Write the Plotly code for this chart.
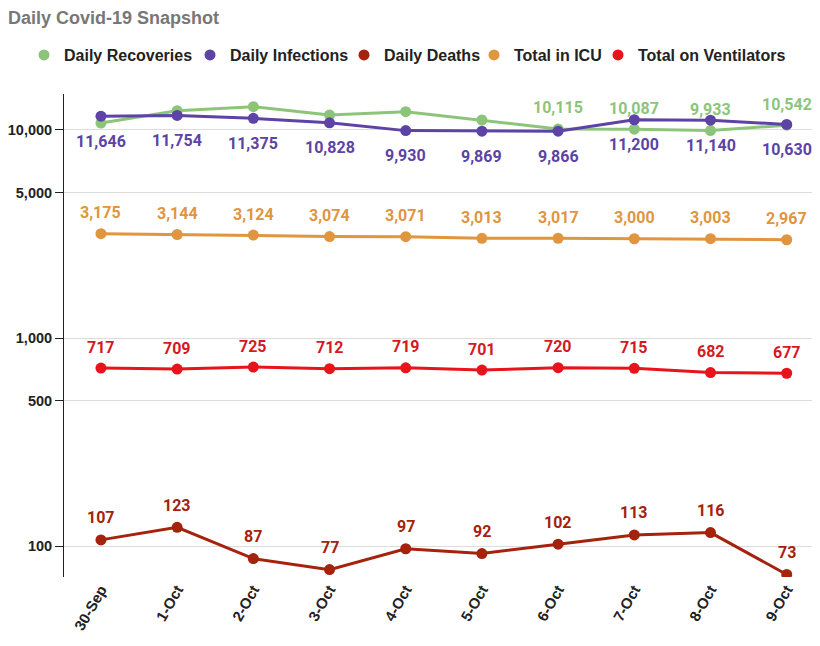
import math
import plotly.graph_objects as go

dates = ["30-Sep", "1-Oct", "2-Oct", "3-Oct", "4-Oct", "5-Oct", "6-Oct", "7-Oct", "8-Oct", "9-Oct"]
recoveries = [10800, 12380, 12940, 11810, 12240, 11170, 10115, 10087, 9933, 10542]
recoveries_labeled = [False, False, False, False, False, False, True, True, True, True]
infections = [11646, 11754, 11375, 10828, 9930, 9869, 9866, 11200, 11140, 10630]
deaths = [107, 123, 87, 77, 97, 92, 102, 113, 116, 73]
icu = [3175, 3144, 3124, 3074, 3071, 3013, 3017, 3000, 3003, 2967]
ventilators = [717, 709, 725, 712, 719, 701, 720, 715, 682, 677]

y_tickvals = [100, 500, 1000, 5000, 10000]
y_ticktext = ["100", "500", "1,000", "5,000", "10,000"]

series = [
    ("Daily Recoveries", recoveries, "#8cc57a", "#8cc57a", 21, recoveries_labeled),
    ("Daily Infections", infections, "#5c43a5", "#5c43a5", -25, None),
    ("Daily Deaths", deaths, "#a5220c", "#a5220c", 22, None),
    ("Total in ICU", icu, "#e0953f", "#e0953f", 21, None),
    ("Total on Ventilators", ventilators, "#e8141c", "#d41a1f", 21, None),
]

# The page body adds an 8px offset; the figure is sized/positioned to compensate.
W, H = 812, 638
legend_left_px = [16, 182, 336, 466, 590]

fig = go.Figure()
annotations = []
legend_layouts = {}
for k, (name, vals, color, lblcolor, shift, mask) in enumerate(series):
    lg = "legend" if k == 0 else "legend%d" % (k + 1)
    fig.add_trace(go.Scatter(
        x=dates, y=vals, name=name, mode="lines", showlegend=False,
        line=dict(color=color, width=3), hoverinfo="skip",
    ))
    fig.add_trace(go.Scatter(
        x=dates, y=vals, name=name, mode="markers", legend=lg,
        marker=dict(color=color, size=11),
    ))
    legend_layouts[lg] = dict(
        orientation="h", xref="container", yref="container",
        x=legend_left_px[k] / W, xanchor="left", y=1 - 47 / H, yanchor="middle",
        font=dict(family="Liberation Sans, Arial", size=16, color="#222222", weight="bold"),
        itemclick=False, bgcolor="rgba(0,0,0,0)",
    )
    for i, (d, v) in enumerate(zip(dates, vals)):
        if mask is not None and not mask[i]:
            continue
        annotations.append(dict(
            x=d, y=math.log10(v), xref="x", yref="y",
            text="<b>{:,}</b>".format(v), showarrow=False,
            yshift=shift, font=dict(family="Roboto", size=16, color=lblcolor),
        ))

fig.update_layout(
    width=W, height=H,
    margin=dict(l=54, r=0, t=86, b=69),
    paper_bgcolor="white", plot_bgcolor="white",
    title=dict(text="<b>Daily Covid-19 Snapshot</b>", xref="container", yref="container",
               x=0.0, xanchor="left", y=1 - 3 / H, yanchor="top", pad=dict(l=0, t=0, b=0, r=0),
               font=dict(family="Liberation Sans, Arial", size=18, color="#777777")),
    annotations=annotations,
    showlegend=True,
    **legend_layouts,
)
fig.update_xaxes(
    type="category", range=[-0.485, 9.437], showgrid=False, showline=False, zeroline=False,
    ticks="", tickangle=-60,
    tickfont=dict(family="Liberation Sans, Arial", size=15, color="#222222", weight="bold"),
)
fig.update_yaxes(
    type="log", range=[1.851, 4.173], tickvals=y_tickvals, ticktext=y_ticktext,
    showgrid=True, gridcolor="#dddddd", gridwidth=1,
    showline=True, linecolor="#222222", linewidth=1,
    ticks="outside", ticklen=8, tickcolor="#222222",
    tickfont=dict(family="Liberation Sans, Arial", size=14.5, color="#222222", weight="bold"),
    zeroline=False,
)
fig.write_html("out.html")
